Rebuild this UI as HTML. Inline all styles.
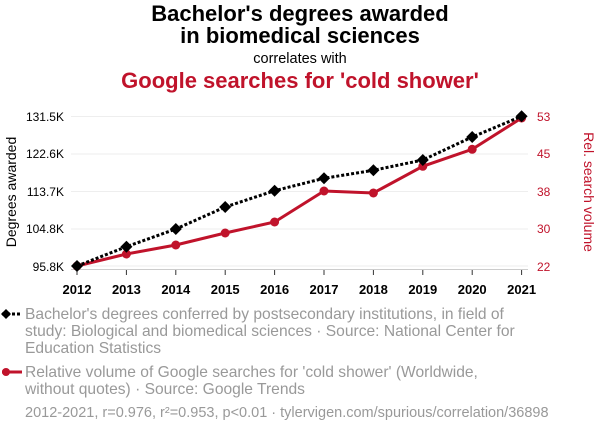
<!DOCTYPE html>
<html><head><meta charset="utf-8"><style>
body{margin:0;background:#fff;width:600px;height:430px;overflow:hidden;font-family:"Liberation Sans",sans-serif}
</style></head><body>
<svg width="600" height="430" viewBox="0 0 600 430" font-family="Liberation Sans, sans-serif">
<text x="300" y="21" text-anchor="middle" font-size="22" font-weight="bold">Bachelor's degrees awarded</text>
<text x="300" y="43" text-anchor="middle" font-size="22" font-weight="bold">in biomedical sciences</text>
<text x="300" y="63" text-anchor="middle" font-size="14.5">correlates with</text>
<text x="300" y="88" text-anchor="middle" font-size="22" font-weight="bold" fill="#c0132b">Google searches for 'cold shower'</text>
<g stroke="#eee" stroke-width="1">
<line x1="71" x2="528" y1="116.5" y2="116.5"/><line x1="71" x2="528" y1="154" y2="154"/><line x1="71" x2="528" y1="191.5" y2="191.5"/><line x1="71" x2="528" y1="229" y2="229"/><line x1="71" x2="528" y1="266" y2="266"/>
</g>
<line x1="71" x2="528" y1="269.5" y2="269.5" stroke="#ccc"/>
<g stroke="#333"><line x1="77" x2="77" y1="270" y2="275"/><line x1="126.4" x2="126.4" y1="270" y2="275"/><line x1="175.8" x2="175.8" y1="270" y2="275"/><line x1="225.2" x2="225.2" y1="270" y2="275"/><line x1="274.6" x2="274.6" y1="270" y2="275"/><line x1="324" x2="324" y1="270" y2="275"/><line x1="373.4" x2="373.4" y1="270" y2="275"/><line x1="422.8" x2="422.8" y1="270" y2="275"/><line x1="472.2" x2="472.2" y1="270" y2="275"/><line x1="521.6" x2="521.6" y1="270" y2="275"/></g>
<g font-size="13" font-weight="bold" text-anchor="middle">
<text x="77" y="294">2012</text><text x="126.4" y="294">2013</text><text x="175.8" y="294">2014</text><text x="225.2" y="294">2015</text><text x="274.6" y="294">2016</text><text x="324" y="294">2017</text><text x="373.4" y="294">2018</text><text x="422.8" y="294">2019</text><text x="472.2" y="294">2020</text><text x="521.6" y="294">2021</text>
</g>
<g font-size="12" text-anchor="end">
<text x="64" y="121">131.5K</text><text x="64" y="158">122.6K</text><text x="64" y="196">113.7K</text><text x="64" y="233">104.8K</text><text x="64" y="271">95.8K</text>
</g>
<g font-size="12" fill="#c0132b">
<text x="537" y="121">53</text><text x="537" y="158">45</text><text x="537" y="196">38</text><text x="537" y="233">30</text><text x="537" y="271">22</text>
</g>
<text transform="translate(16,192) rotate(-90)" text-anchor="middle" font-size="14">Degrees awarded</text>
<text transform="translate(584,192) rotate(90)" text-anchor="middle" font-size="14" fill="#c0132b">Rel. search volume</text>
<polyline fill="none" stroke="#c0132b" stroke-width="3" points="77,266 126.4,254 175.8,245 225.2,233 274.6,222 324,191 373.4,193 422.8,166.3 472.2,149.3 521.6,118"/>
<g fill="#c0132b"><circle cx="77" cy="266" r="4.5"/><circle cx="126.4" cy="254" r="4.5"/><circle cx="175.8" cy="245" r="4.5"/><circle cx="225.2" cy="233" r="4.5"/><circle cx="274.6" cy="222" r="4.5"/><circle cx="324" cy="191" r="4.5"/><circle cx="373.4" cy="193" r="4.5"/><circle cx="422.8" cy="166.3" r="4.5"/><circle cx="472.2" cy="149.3" r="4.5"/><circle cx="521.6" cy="118" r="4.5"/></g>
<polyline fill="none" stroke="#000" stroke-width="3" stroke-dasharray="3,2" points="77,266 126.4,246.7 175.8,229 225.2,207 274.6,190.7 324,178.3 373.4,170.3 422.8,160 472.2,137 521.6,116.3"/>
<g fill="#000">
<path d="M77 260l6 6-6 6-6-6z"/><path d="M126.4 240.7l6 6-6 6-6-6z"/><path d="M175.8 223l6 6-6 6-6-6z"/><path d="M225.2 201l6 6-6 6-6-6z"/><path d="M274.6 184.7l6 6-6 6-6-6z"/><path d="M324 172.3l6 6-6 6-6-6z"/><path d="M373.4 164.3l6 6-6 6-6-6z"/><path d="M422.8 154l6 6-6 6-6-6z"/><path d="M472.2 131l6 6-6 6-6-6z"/><path d="M521.6 110.3l6 6-6 6-6-6z"/>
</g>
<line x1="2" x2="22" y1="314" y2="314" stroke="#000" stroke-width="3" stroke-dasharray="3,2"/>
<path d="M6 309l5 5-5 5-5-5z" fill="#000"/>
<g font-size="15.6" fill="#999">
<text x="25" y="319">Bachelor's degrees conferred by postsecondary institutions, in field of</text>
<text x="25" y="336">study: Biological and biomedical sciences · Source: National Center for</text>
<text x="25" y="353">Education Statistics</text>
<text x="25" y="377">Relative volume of Google searches for 'cold shower' (Worldwide,</text>
<text x="25" y="394">without quotes) · Source: Google Trends</text>
</g>
<text x="25" y="417" font-size="14.5" fill="#999">2012-2021, r=0.976, r²=0.953, p&lt;0.01 · tylervigen.com/spurious/correlation/36898</text>
<line x1="2" x2="22" y1="372" y2="372" stroke="#c0132b" stroke-width="3"/>
<circle cx="6" cy="372" r="4" fill="#c0132b"/>
</svg>
</body></html>
